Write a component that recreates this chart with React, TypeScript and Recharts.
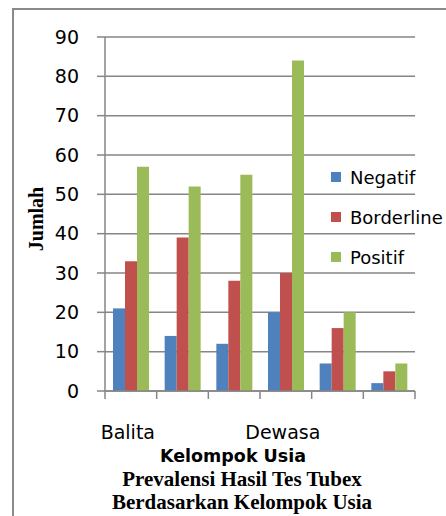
import { BarChart, Bar, XAxis, YAxis, CartesianGrid, Legend, Label } from 'recharts';

// age groups; Excel only had room to print every third label
const categories = ['Balita', 'Anak-anak', 'Remaja', 'Dewasa', 'Lansia', 'Manula'];
const shownLabels = ['Balita', 'Dewasa'];
const negatif = [21, 14, 12, 20, 7, 2];
const borderline = [33, 39, 28, 30, 16, 5];
const positif = [57, 52, 55, 84, 20, 7];
const yTicks = [0, 10, 20, 30, 40, 50, 60, 70, 80, 90];

const seriesNames = ['Negatif', 'Borderline', 'Positif'];
const seriesColors = ['#4F81BD', '#C0504D', '#9BBB59'];

const data = categories.map((name, i) => ({
  name,
  Negatif: negatif[i],
  Borderline: borderline[i],
  Positif: positif[i],
}));

const GRID = '#868686';
const SANS = '"DejaVu Sans", sans-serif';
const SERIF = '"Liberation Serif", "Times New Roman", serif';

function CategoryTick(props: any) {
  const { x, y, payload, index } = props;
  const half = payload.offset ?? 0;
  const last = index === categories.length - 1;
  return (
    <g>
      <line x1={x - half} x2={x - half} y1={y} y2={y + 8} stroke={GRID} strokeWidth={1.5} />
      {last && <line x1={x + half} x2={x + half} y1={y} y2={y + 8} stroke={GRID} strokeWidth={1.5} />}
      {shownLabels.includes(payload.value) && (
        <text x={x - 3} y={y + 48} textAnchor="middle" fontFamily={SANS} fontSize={19} fill="#000">
          {payload.value}
        </text>
      )}
    </g>
  );
}

function LegendBox() {
  return (
    <div style={{ fontFamily: SANS, fontSize: 18, color: '#000' }}>
      {seriesNames.map((s, i) => (
        <div key={s} style={{ height: 40, display: 'flex', alignItems: 'center' }}>
          <span style={{ width: 10, height: 10, background: seriesColors[i], marginRight: 9, display: 'inline-block' }} />
          <span>{s}</span>
        </div>
      ))}
    </div>
  );
}

export default function App() {
  return (
    <div style={{ position: 'fixed', left: 0, top: 0, width: 446, height: 516, overflow: 'hidden', background: '#fff' }}>
      <div
        style={{
          position: 'absolute',
          left: 12,
          top: 8,
          width: 460,
          height: 540,
          border: '2px solid #8a8a8a',
        }}
      />
      <BarChart
        width={446}
        height={516}
        data={data}
        margin={{ top: 37, right: 31, bottom: 85, left: 0 }}
        barSize={12}
        barGap={0}
        style={{ position: 'absolute', left: 0, top: 0 }}
      >
        <CartesianGrid vertical={false} stroke={GRID} strokeWidth={1.5} />
        <XAxis
          dataKey="name"
          height={40}
          interval={0}
          tickSize={0}
          tickMargin={0}
          tickLine={false}
          axisLine={{ stroke: GRID, strokeWidth: 1.5 }}
          tick={<CategoryTick />}
        >
          <Label
            content={({ viewBox }: any) => (
              <text
                x={viewBox.x + viewBox.width / 2 - 27}
                y={viewBox.y + 71}
                textAnchor="middle"
                fontFamily={SANS}
                fontWeight="bold"
                fontSize={17.5}
                fill="#000"
              >
                Kelompok Usia
              </text>
            )}
          />
        </XAxis>
        <YAxis
          width={105}
          domain={[0, 90]}
          ticks={yTicks}
          interval={0}
          tickSize={8}
          tickMargin={18}
          tickLine={{ stroke: GRID, strokeWidth: 1.5 }}
          axisLine={{ stroke: GRID, strokeWidth: 1.5 }}
          tick={{ fontFamily: SANS, fontSize: 19, fill: '#000' }}
        >
          <Label
            content={({ viewBox }: any) => {
              const cx = 36;
              const cy = viewBox.y + viewBox.height / 2 + 5;
              return (
                <text
                  x={cx}
                  y={cy}
                  transform={`rotate(-90 ${cx} ${cy})`}
                  textAnchor="middle"
                  dominantBaseline="central"
                  fontFamily={SERIF}
                  fontWeight="bold"
                  fontSize={20}
                  fill="#000"
                >
                  Jumlah
                </text>
              );
            }}
          />
        </YAxis>
        <Legend
          layout="horizontal"
          verticalAlign="middle"
          align="center"
          content={<LegendBox />}
          wrapperStyle={{ position: 'absolute', left: 331, top: 157, width: 120 }}
        />
        {seriesNames.map((s, i) => (
          <Bar key={s} dataKey={s} fill={seriesColors[i]} isAnimationActive={false} />
        ))}
      </BarChart>
      <div
        style={{
          position: 'absolute',
          left: 0,
          width: 484,
          top: 468,
          textAlign: 'center',
          fontFamily: SERIF,
          fontWeight: 'bold',
          fontSize: 21,
          lineHeight: '23px',
          color: '#000',
        }}
      >
        <div>Prevalensi Hasil Tes Tubex</div>
        <div>Berdasarkan Kelompok Usia</div>
      </div>
    </div>
  );
}
